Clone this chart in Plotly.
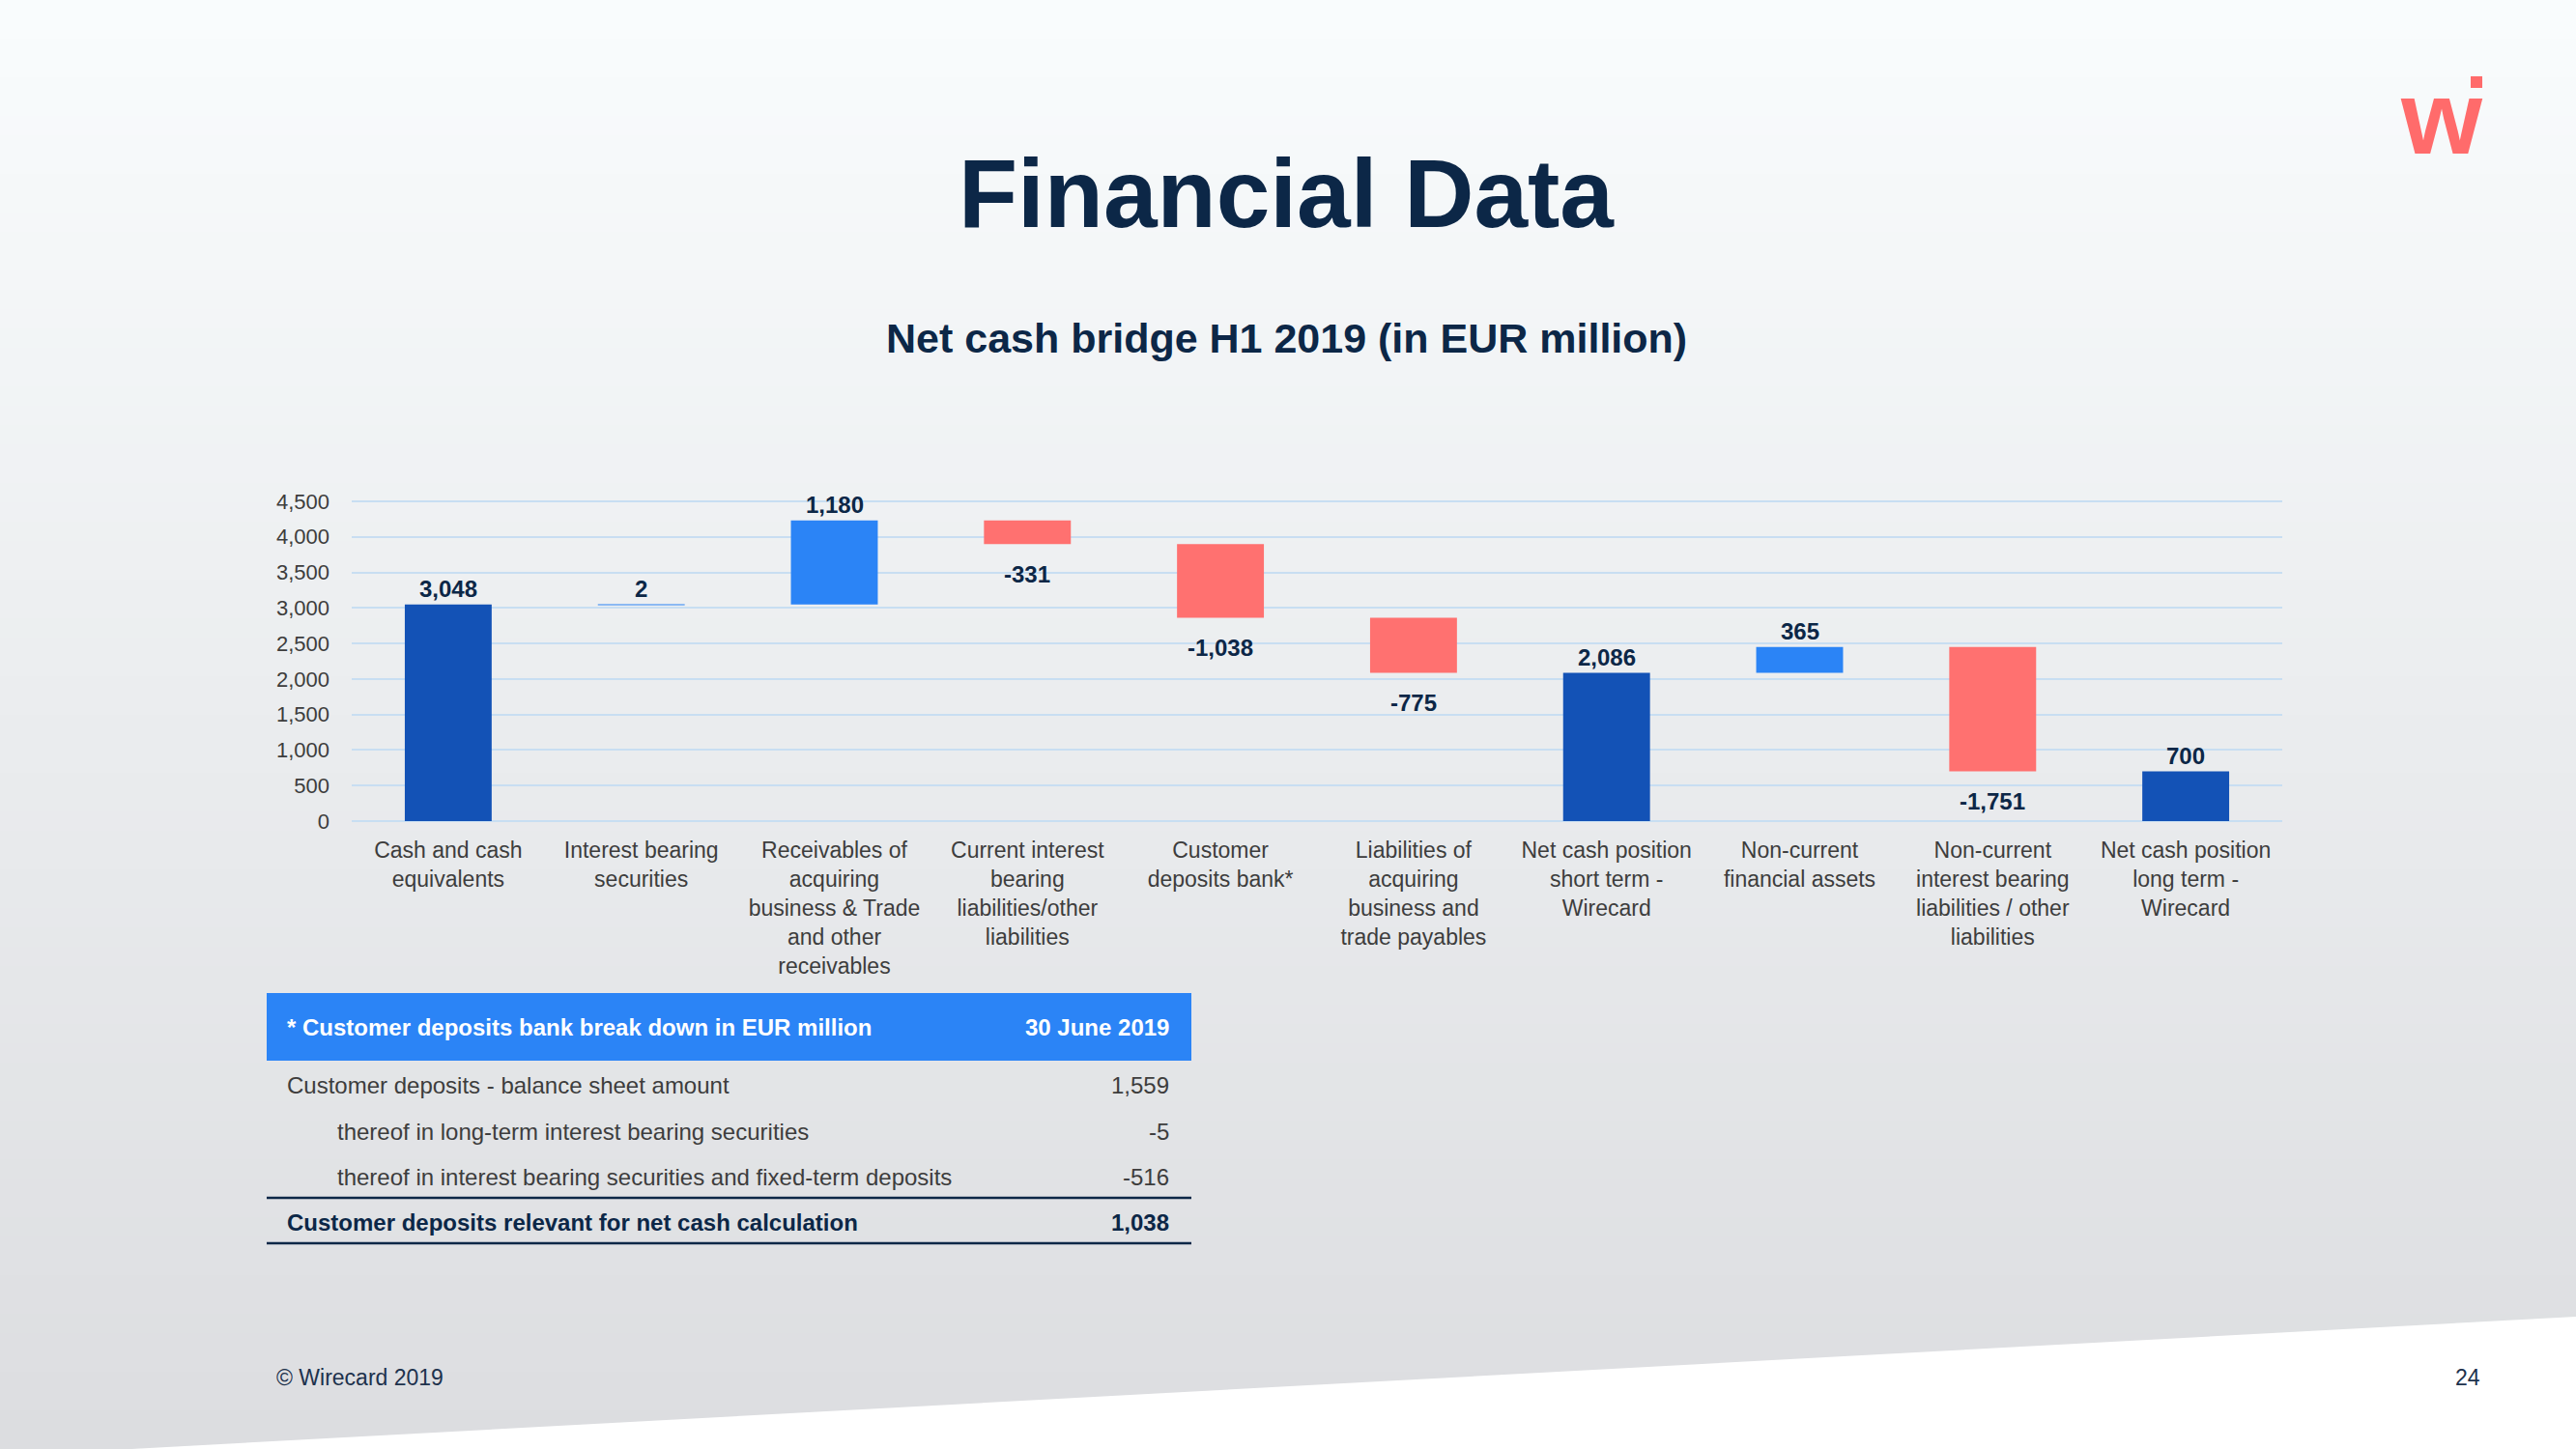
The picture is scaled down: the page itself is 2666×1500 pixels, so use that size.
import plotly.graph_objects as go

# ---------------- data ----------------
categories = [
    "Cash and cash<br>equivalents",
    "Interest bearing<br>securities",
    "Receivables of<br>acquiring<br>business & Trade<br>and other<br>receivables",
    "Current interest<br>bearing<br>liabilities/other<br>liabilities",
    "Customer<br>deposits bank*",
    "Liabilities of<br>acquiring<br>business and<br>trade payables",
    "Net cash position<br>short term -<br>Wirecard",
    "Non-current<br>financial assets",
    "Non-current<br>interest bearing<br>liabilities / other<br>liabilities",
    "Net cash position<br>long term -<br>Wirecard",
]
values = [3048, 2, 1180, -331, -1038, -775, 2086, 365, -1751, 700]
measures = ["absolute", "relative", "relative", "relative", "relative",
            "relative", "total", "relative", "relative", "total"]
value_labels = ["3,048", "2", "1,180", "-331", "-1,038", "-775",
                "2,086", "365", "-1,751", "700"]
y_ticks = [0, 500, 1000, 1500, 2000, 2500, 3000, 3500, 4000, 4500]

table_header = ["* Customer deposits bank break down in EUR million", "30 June 2019"]
table_rows = [
    "Customer deposits - balance sheet amount",
    "thereof in long-term interest bearing securities",
    "thereof in interest bearing securities and fixed-term deposits",
    "Customer deposits relevant for net cash calculation",
]
table_values = ["1,559", "-5", "-516", "1,038"]

# ---------------- style ----------------
W, H = 2666, 1500
NAVY = "#0c2747"
GREY_TXT = "#3d3d3d"
C_TOTAL = "#1352b6"
C_INC = "#2b84f6"
C_DEC = "#ff7170"
GRID = "#c8def2"
FONT = "Liberation Sans, Arial, sans-serif"


def px(x):
    return x / W


def py(y):
    return 1 - y / H


fig = go.Figure()
fig.add_trace(go.Waterfall(
    x=categories,
    y=values,
    measure=measures,
    increasing=dict(marker=dict(color=C_INC)),
    decreasing=dict(marker=dict(color=C_DEC)),
    totals=dict(marker=dict(color=C_TOTAL)),
    connector=dict(visible=False),
    cliponaxis=False,
    hoverinfo="skip",
))

annotations = []
# value labels at the end of each bar (running total computed from the data)
run = 0
for cat, v, m, lab in zip(categories, values, measures, value_labels):
    if m == "absolute":
        start, run = 0, v
        end = v
    elif m == "total":
        start, end = 0, run
    else:
        start = run
        run = run + v
        end = run
    if v >= 0:
        annotations.append(dict(x=cat, y=max(start, end), xref="x", yref="y", text="<b>%s</b>" % lab,
                                showarrow=False, yanchor="middle", yshift=16,
                                font=dict(family=FONT, size=24, color=NAVY)))
    else:
        annotations.append(dict(x=cat, y=min(start, end), xref="x", yref="y", text="<b>%s</b>" % lab,
                                showarrow=False, yanchor="middle", yshift=-31,
                                font=dict(family=FONT, size=24, color=NAVY)))

shapes = []
# background vertical gradient (stripes)
top = (0xf9, 0xfc, 0xfd)
bot = (0xdc, 0xdd, 0xe0)
n = 75
for i in range(n):
    t = i / (n - 1)
    c = tuple(round(top[k] + (bot[k] - top[k]) * t) for k in range(3))
    shapes.append(dict(type="rect", xref="paper", yref="paper",
                       x0=0, x1=1, y0=py(i * H / n), y1=py((i + 1) * H / n + 1),
                       fillcolor="rgb(%d,%d,%d)" % c, line=dict(width=0),
                       layer="below"))
# white diagonal in bottom right corner
shapes.append(dict(type="path", xref="paper", yref="paper",
                   path="M %f %f L %f %f L %f %f Z" % (px(136), py(1500), px(2666), py(1363), px(2666), py(1500)),
                   fillcolor="#ffffff", line=dict(width=0), layer="below"))
# logo dot
shapes.append(dict(type="rect", xref="paper", yref="paper",
                   x0=px(2557), x1=px(2569), y0=py(91), y1=py(79),
                   fillcolor="#ff6b6b", line=dict(width=0)))
# table header background
shapes.append(dict(type="rect", xref="paper", yref="paper",
                   x0=px(276), x1=px(1233), y0=py(1098), y1=py(1028),
                   fillcolor=C_INC, line=dict(width=0)))
# table rules
for yy in (1240, 1287):
    shapes.append(dict(type="line", xref="paper", yref="paper",
                       x0=px(276), x1=px(1233), y0=py(yy), y1=py(yy),
                       line=dict(color=NAVY, width=2.5)))

annotations.append(dict(text="<b>Financial Data</b>", xref="paper", yref="paper",
                        x=px(1331), y=py(200), showarrow=False, xanchor="center", yanchor="middle",
                        font=dict(family=FONT, size=100, color=NAVY)))
annotations.append(dict(text="<b>Net cash bridge H1 2019 (in EUR million)</b>", xref="paper", yref="paper",
                        x=px(1331), y=py(350), showarrow=False, xanchor="center", yanchor="middle",
                        font=dict(family=FONT, size=43, color=NAVY)))
annotations.append(dict(text="<b>w</b>", xref="paper", yref="paper",
                        x=px(2527), y=py(121), showarrow=False, xanchor="center", yanchor="middle",
                        font=dict(family=FONT, size=108, color="#ff6b6b")))
# table header
annotations.append(dict(text="<b>" + table_header[0] + "</b>", xref="paper", yref="paper",
                        x=px(295), y=py(1063), showarrow=False, xanchor="left", yanchor="middle",
                        font=dict(family=FONT, size=24, color="#ffffff")))
annotations.append(dict(text="<b>" + table_header[1] + "</b>", xref="paper", yref="paper",
                        x=px(1212), y=py(1063), showarrow=False, xanchor="right", yanchor="middle",
                        font=dict(family=FONT, size=24, color="#ffffff")))
row_y = [1123, 1171, 1218, 1265]
row_x = [295, 347, 347, 295]
for i, (lab, val) in enumerate(zip(table_rows, table_values)):
    bold = i == len(table_rows) - 1
    col = NAVY if bold else GREY_TXT
    t1 = "<b>%s</b>" % lab if bold else lab
    t2 = "<b>%s</b>" % val if bold else val
    annotations.append(dict(text=t1, xref="paper", yref="paper", x=px(row_x[i]), y=py(row_y[i]),
                            showarrow=False, xanchor="left", yanchor="middle",
                            font=dict(family=FONT, size=24, color=col)))
    annotations.append(dict(text=t2, xref="paper", yref="paper", x=px(1212), y=py(row_y[i]),
                            showarrow=False, xanchor="right", yanchor="middle",
                            font=dict(family=FONT, size=24, color=col)))
# footer
annotations.append(dict(text="© Wirecard 2019", xref="paper", yref="paper",
                        x=px(284), y=py(1426), showarrow=False, xanchor="left", yanchor="middle",
                        font=dict(family=FONT, size=23, color="#1d324d")))
annotations.append(dict(text="24", xref="paper", yref="paper",
                        x=px(2569), y=py(1426), showarrow=False, xanchor="right", yanchor="middle",
                        font=dict(family=FONT, size=23, color="#1d324d")))

fig.update_layout(
    width=W, height=H,
    margin=dict(l=0, r=0, t=0, b=0),
    paper_bgcolor="#ffffff",
    plot_bgcolor="rgba(0,0,0,0)",
    showlegend=False,
    waterfallgap=0.55,
    shapes=shapes,
    annotations=annotations,
    font=dict(family=FONT),
    xaxis=dict(domain=[px(364), px(2362)], showgrid=False, showline=False, zeroline=False,
               ticks="", ticklabelstandoff=14, tickfont=dict(family=FONT, size=23, color=GREY_TXT),
               tickangle=0, automargin=False, fixedrange=True),
    yaxis=dict(domain=[py(850), py(517.5)], range=[0, 4520], tickvals=y_ticks,
               tickformat=",", showgrid=True, gridcolor=GRID, gridwidth=2,
               zeroline=True, zerolinecolor=GRID, zerolinewidth=2, showline=False,
               ticks="", ticklabelstandoff=22,
               tickfont=dict(family=FONT, size=22, color=GREY_TXT),
               automargin=False, fixedrange=True),
)

fig.write_html("out.html", config={"displayModeBar": False},
               post_script="document.body.style.margin='0';document.body.style.overflow='hidden';")
